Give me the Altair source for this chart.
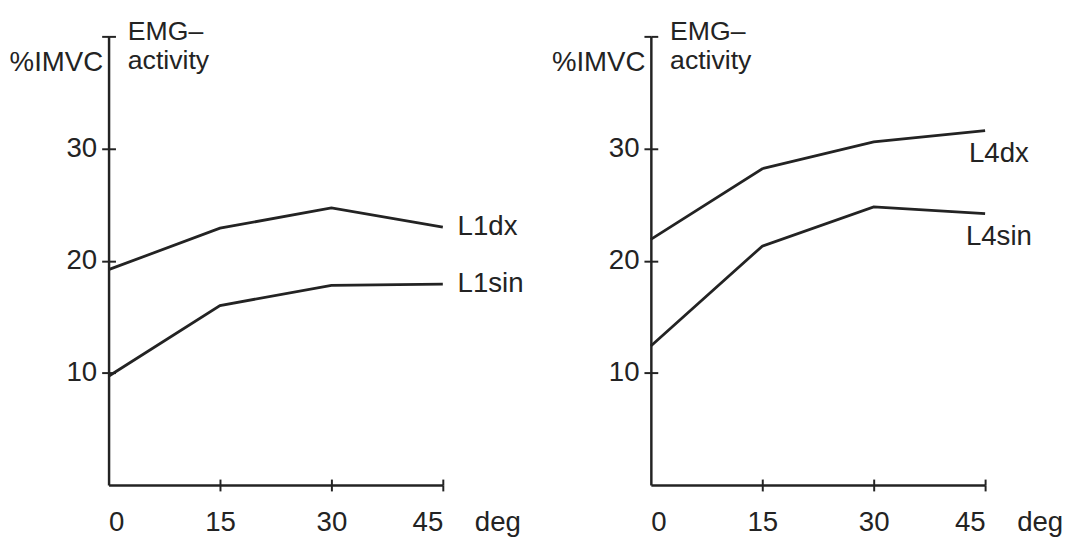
import altair as alt
import pandas as pd

# ---- data ----
angles = [0, 15, 30, 45]
L1dx = [19.2, 22.9, 24.7, 23.0]
L1sin = [9.7, 16.0, 17.8, 17.9]
L4dx = [21.9, 28.2, 30.6, 31.6]
L4sin = [12.4, 21.3, 24.8, 24.2]

y_ticks = [10, 20, 30, 40]
x_ticks = [0, 15, 30, 45]

FONT = "Liberation Sans"
INK = "#232323"
W, H = 339, 455


def long_df(names, series):
    rows = []
    for n, vals in zip(names, series):
        for a, v in zip(angles, vals):
            rows.append({"angle": a, "value": v, "series": n})
    return pd.DataFrame(rows)


def panel(names, series, label_align, label_dx, label_dy):
    df = long_df(names, series)
    xs = alt.Scale(domain=[0, 45], nice=False, zero=False)
    ys = alt.Scale(domain=[0, 40], nice=False)

    x_bottom = alt.Axis(
        orient="bottom", values=x_ticks, grid=False,
        domainColor=INK, domainWidth=2.5,
        tickColor={"condition": {"test": "datum.value == 0", "value": "transparent"}, "value": INK},
        tickSize=6, tickWidth=2,
        labelFont=FONT, labelFontSize=28, labelColor=INK, labelPadding=18,
        title="deg", titleFont=FONT, titleFontSize=28, titleFontWeight="normal",
        titleColor=INK, titleAngle=0, titleAlign="left", titleBaseline="alphabetic",
        titleX=W + 32, titleY=46,
    )
    x_top = alt.Axis(
        orient="top", offset=-H, values=[15, 30, 45], grid=False,
        domain=False, labels=False, tickColor=INK, tickSize=6, tickWidth=2, title=None,
    )
    y_left = alt.Axis(
        orient="left", values=y_ticks, grid=False,
        domainColor=INK, domainWidth=2.5,
        tickColor=INK, tickSize=7, tickWidth=2,
        labelExpr="datum.value == 40 ? '' : datum.label",
        labelFont=FONT, labelFontSize=28, labelColor=INK, labelPadding=5,
        title="%IMVC", titleFont=FONT, titleFontSize=28, titleFontWeight="normal",
        titleColor=INK, titleAngle=0, titleAlign="right", titleBaseline="alphabetic",
        titleX=-6, titleY=35,
    )
    y_right = alt.Axis(
        orient="right", offset=-W, values=y_ticks, grid=False,
        domain=False, labels=False, tickColor=INK, tickSize=7, tickWidth=2,
        title=["EMG\u2013", "activity"], titleFont=FONT, titleFontSize=27,
        titleFontWeight="normal", titleColor=INK, titleAngle=0, titleAlign="left",
        titleBaseline="alphabetic", titleLineHeight=30, titleX=19, titleY=3,
    )

    lines = alt.Chart(df).mark_line(color=INK, strokeWidth=2.8).encode(
        x=alt.X("angle:Q", scale=xs, axis=x_bottom),
        y=alt.Y("value:Q", scale=ys, axis=y_left),
        detail="series:N",
    )
    labels = alt.Chart(df).transform_filter("datum.angle == 45").mark_text(
        font=FONT, fontSize=28, color=INK, align=label_align, baseline="middle",
        dx=label_dx, dy=label_dy,
    ).encode(
        x=alt.X("angle:Q", scale=xs, axis=x_top),
        y=alt.Y("value:Q", scale=ys, axis=y_right),
        text="series:N",
    )
    return alt.layer(lines, labels).resolve_axis(x="independent", y="independent").properties(
        width=W, height=H
    )


left = panel(["L1dx", "L1sin"], [L1dx, L1sin], "left", 15, 0)
right = panel(["L4dx", "L4sin"], [L4dx, L4sin], "center", 14, 24)

chart = alt.hconcat(left, right, spacing=28).properties(
    padding={"left": 1, "top": 6, "right": 0, "bottom": 0}, background="white"
).configure_view(stroke=None)

chart.save("out.html", embed_options={"renderer": "svg", "actions": False})
